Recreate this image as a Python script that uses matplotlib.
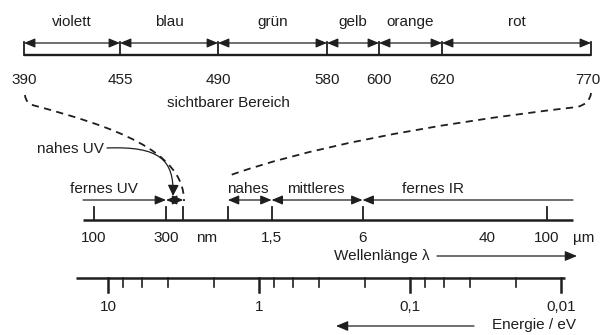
import numpy as np
import matplotlib
matplotlib.use("Agg")
import matplotlib.pyplot as plt
from matplotlib.path import Path
from matplotlib.patches import PathPatch, FancyArrowPatch

# ---------------- data ----------------
vis_bounds = [390, 455, 490, 580, 600, 620, 770]          # nm
vis_colors = ["violett", "blau", "grün", "gelb", "orange", "rot"]
vis_pos = [24, 120, 218, 327, 379, 442, 591]              # schematic layout (px)

wl_ticks = [100, 300, 390, 770, 1500, 6000, 100000]       # nm
wl_labels = {100: "100", 300: "300", 1500: "1,5", 6000: "6", 40000: "40", 100000: "100"}
e_major = [10, 1, 0.1, 0.01]                              # eV
e_major_labels = ["10", "1", "0,1", "0,01"]
e_minor = [8, 6, 4, 2, 0.8, 0.6, 0.4, 0.2, 0.08, 0.06, 0.04, 0.02]

HC = 1239.84  # eV*nm

# ---------------- layout helpers ----------------
W, H = 603, 335
X0, K = 94.0, 151.0   # pixel of 100 nm, pixels per decade

def px2lam(x):
    return 100.0 * 10 ** ((x - X0) / K)

plt.rcParams['font.family'] = ['Liberation Sans', 'DejaVu Sans']
TXT = '#1e1e1e'
FS = 11

fig = plt.figure(figsize=(W / 100, H / 100), dpi=100)
ax = fig.add_axes([0, 0, 1, 1])
ax.set_xlim(0, W); ax.set_ylim(H, 0); ax.axis('off')
axl = fig.add_axes([0, 0, 1, 1])
axl.set_xscale('log')
axl.set_xlim(px2lam(0), px2lam(W)); axl.set_ylim(H, 0); axl.axis('off')
axl.patch.set_alpha(0)

def arrow(a, x1, y1, x2, y2, style='<|-|>', ms=11, lw=0.9):
    a.annotate('', xy=(x2, y2), xytext=(x1, y1),
               arrowprops=dict(arrowstyle=f'{style},head_length=0.6,head_width=0.25',
                               mutation_scale=ms, lw=lw, color=TXT,
                               shrinkA=0, shrinkB=0))

# ---------------- top: visible range ----------------
ybar, ytick, yarr = 55, 42, 43
ax.plot([vis_pos[0], vis_pos[-1]], [ybar, ybar], color=TXT, lw=1.7, solid_capstyle='butt')
for i, (p, v) in enumerate(zip(vis_pos, vis_bounds)):
    ax.plot([p, p], [ytick, ybar], color=TXT, lw=1.3)
    lx = p if i < len(vis_pos) - 1 else p - 3
    ax.text(lx, 80, str(v), ha='center', va='center', fontsize=FS, color=TXT)
for i, name in enumerate(vis_colors):
    arrow(ax, vis_pos[i], yarr, vis_pos[i + 1], yarr)
    ax.text((vis_pos[i] + vis_pos[i + 1]) / 2, 22, name, ha='center', va='center',
            fontsize=FS, color=TXT)
ax.text(228, 103, "sichtbarer Bereich", ha='center', va='center', fontsize=FS, color=TXT)

# dashed connectors
verts = [(25, 95), (25.5, 104), (36, 106), (110, 126), (184, 150), (184, 201)]
codes = [Path.MOVETO, Path.CURVE3, Path.CURVE3, Path.CURVE4, Path.CURVE4, Path.CURVE4]
ax.add_patch(PathPatch(Path(verts, codes), fill=False, lw=1.3, ls=(0, (4, 3)), color=TXT))
verts = [(591, 93), (590, 104), (577, 107), (420, 125), (300, 150), (228, 176)]
ax.add_patch(PathPatch(Path(verts, codes), fill=False, lw=1.3, ls=(0, (4, 3)), color=TXT))

# nahes UV pointer
ax.text(70, 149, "nahes UV", ha='center', va='center', fontsize=FS, color=TXT)
pp = Path([(107, 148), (160, 146), (174, 160), (173, 196)],
          [Path.MOVETO, Path.CURVE4, Path.CURVE4, Path.CURVE4])
ax.add_patch(FancyArrowPatch(path=pp, arrowstyle='-|>,head_length=0.6,head_width=0.3',
                             mutation_scale=11, lw=0.9, color=TXT))

# ---------------- middle: wavelength (log) ----------------
yax, ytk, yar = 220, 207, 200
axl.plot([px2lam(83), px2lam(573)], [yax, yax], color=TXT, lw=1.8, solid_capstyle='butt')
for t in wl_ticks:
    axl.plot([t, t], [ytk, yax], color=TXT, lw=1.3)
for t, s in wl_labels.items():
    axl.text(t, 238, s, ha='center', va='center', fontsize=FS, color=TXT)
axl.text(px2lam(207), 238, "nm", ha='center', va='center', fontsize=FS, color=TXT)
axl.text(px2lam(584), 238, "µm", ha='center', va='center', fontsize=FS, color=TXT)

arrow(axl, px2lam(83), yar, 300, yar, style='-|>')
arrow(axl, 300, yar, 390, yar)
arrow(axl, 770, yar, 1500, yar)
arrow(axl, 1500, yar, 6000, yar)
arrow(axl, px2lam(573), yar, 6000, yar, style='-|>')
axl.text(px2lam(104), 189, "fernes UV", ha='center', va='center', fontsize=FS, color=TXT)
axl.text(px2lam(248), 189, "nahes", ha='center', va='center', fontsize=FS, color=TXT)
axl.text(px2lam(316), 189, "mittleres", ha='center', va='center', fontsize=FS, color=TXT)
axl.text(px2lam(433), 189, "fernes IR", ha='center', va='center', fontsize=FS, color=TXT)

axl.text(px2lam(430), 256, "Wellenlänge λ", ha='right', va='center', fontsize=FS, color=TXT)
arrow(axl, px2lam(437), 256, px2lam(577), 256, style='-|>', ms=12)

# ---------------- bottom: energy (log, via E = hc/λ) ----------------
yE = 278
axl.plot([px2lam(76), px2lam(565)], [yE, yE], color=TXT, lw=1.8, solid_capstyle='butt')
for e, s in zip(e_major, e_major_labels):
    axl.plot([HC / e, HC / e], [yE, 292], color=TXT, lw=1.8)
    axl.text(HC / e, 307, s, ha='center', va='center', fontsize=FS, color=TXT)
for e in e_minor:
    axl.plot([HC / e, HC / e], [yE, 287], color=TXT, lw=1.2)

axl.text(px2lam(576), 325, "Energie / eV", ha='right', va='center', fontsize=FS, color=TXT)
arrow(axl, px2lam(474), 326, px2lam(336), 326, style='-|>', ms=12)

fig.savefig("out.png", dpi=100)
